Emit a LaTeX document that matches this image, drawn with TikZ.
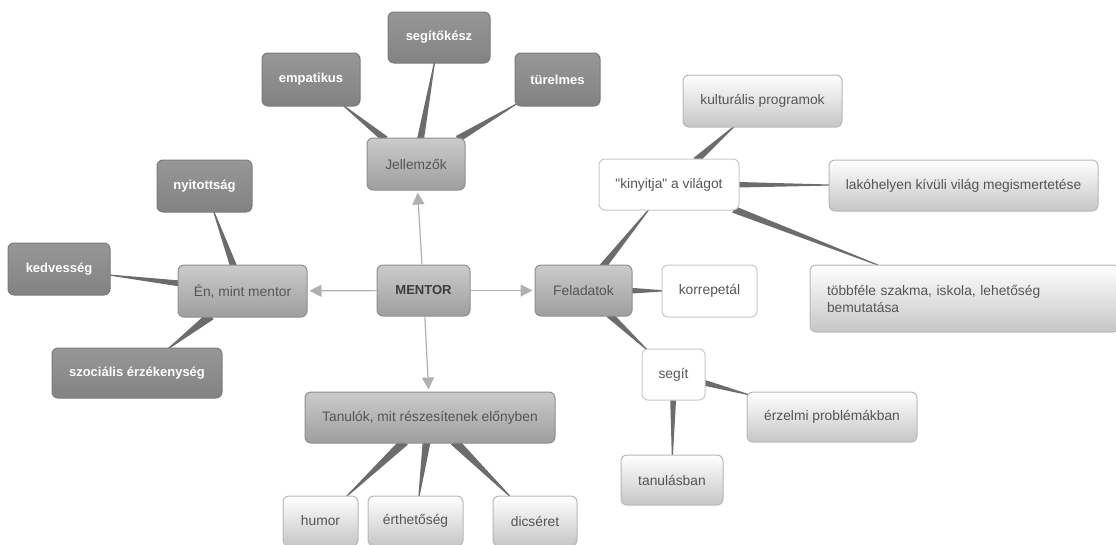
\documentclass[tikz,border=0pt]{standalone}
\usepackage{fontspec}
\setmainfont{Liberation Sans}
% same face without the TeX quote mapping, for straight double quotes
\newfontfamily\straightq{Liberation Sans}
\usetikzlibrary{arrows.meta,calc,backgrounds}

\definecolor{dkTop}{HTML}{979797}
\definecolor{dkBot}{HTML}{828282}
\definecolor{dkLine}{HTML}{7A7A7A}
\definecolor{mdTop}{HTML}{CBCBCB}
\definecolor{mdBot}{HTML}{9E9E9E}
\definecolor{mdLine}{HTML}{8E8E8E}
\definecolor{ltBot}{HTML}{C6C6C6}
\definecolor{ltLine}{HTML}{B8B8B8}
\definecolor{wtLine}{HTML}{C8C8C8}
\definecolor{txGray}{HTML}{555555}
\definecolor{txDark}{HTML}{3C3C3C}
\definecolor{wedgeGray}{HTML}{6C6C6C}
\definecolor{arrowGray}{HTML}{B0B0B0}

\tikzset{
  box/.style={rounded corners=6pt, line width=1pt, minimum height=51pt,
    inner sep=0pt, align=center, font=\fontsize{13.8}{17}\selectfont},
  darkbox/.style={box, top color=dkTop, bottom color=dkBot, draw=dkLine,
    text=white, font=\fontsize{13}{16}\selectfont\bfseries},
  midbox/.style={box, top color=mdTop, bottom color=mdBot, draw=mdLine, text=txGray},
  lightbox/.style={box, top color=white, bottom color=ltBot, draw=ltLine, text=txGray},
  whitebox/.style={box, fill=white, draw=wtLine, text=txGray},
  mentorarrow/.style={draw=arrowGray, line width=1.2pt,
    -{Triangle[length=12pt,width=12pt]}, shorten >=2pt},
  taperfill/.style={fill=wedgeGray}
}

% tapered connector: wide at the parent (#2), narrowing to a point at the child (#3)
\newcommand\taper[3][3.5pt]{%
  \path (#2) -- (#3) coordinate[pos=0] (tA0) coordinate[pos=1] (tB0);
  \coordinate (tA) at ($(tA0)!-3pt!(tB0)$);
  \coordinate (tB) at ($(tB0)!-3pt!(tA0)$);
  \fill[taperfill] ($(tA)!#1!90:(tB)$) -- ($(tB)!0.5pt!-90:(tA)$)
    -- ($(tB)!0.5pt!90:(tA)$) -- ($(tA)!#1!-90:(tB)$) -- cycle;}

\begin{document}
\begin{tikzpicture}[x=1pt,y=-1pt]
\useasboundingbox (0,0) rectangle (1116,544);

% centre
\node[midbox, minimum width=93pt, text=txDark, font=\fontsize{13}{16}\selectfont\bfseries] (mentor) at (423.5,290.5) {MENTOR};

% characteristics
\node[midbox, minimum width=98pt, minimum height=52pt] (jell) at (416,164) {Jellemzők};
\node[darkbox, minimum width=102pt] (segito) at (439,37.5) {segítőkész};
\node[darkbox, minimum width=98pt, minimum height=53pt] (empat) at (311,79.5) {empatikus};
\node[darkbox, minimum width=85pt, minimum height=53pt] (turel) at (557.5,79.5) {türelmes};

% the mentor
\node[midbox, minimum width=129pt, minimum height=52pt] (en) at (242.5,291) {Én, mint mentor};
\node[darkbox, minimum width=95pt, minimum height=52pt] (nyit) at (204.5,186) {nyitottság};
\node[darkbox, minimum width=102pt, minimum height=52pt] (kedv) at (59,269) {kedvesség};
\node[darkbox, minimum width=170pt, minimum height=50pt] (szoc) at (137,373) {szociális érzékenység};

% tasks
\node[midbox, minimum width=97pt] (fel) at (583.5,290.5) {Feladatok};
\node[whitebox, minimum width=95pt, minimum height=52pt] (korr) at (709.5,291) {korrepetál};
\node[whitebox, minimum width=140pt] (kiny) at (669,184.5) {{\straightq"}kinyitja{\straightq"} a világot};
\node[lightbox, minimum width=159pt, minimum height=52pt] (kult) at (762.5,101) {kulturális programok};
\node[lightbox, minimum width=269pt] (lako) at (963.5,185.5) {lakóhelyen kívüli világ megismertetése};
\node[lightbox, minimum width=309pt, minimum height=67pt, text width=275pt,
      align=left] (tobb) at (964.5,298.5) {többféle szakma, iskola, lehetőség\\bemutatása};
\node[whitebox, minimum width=63pt] (segit) at (673.5,374.5) {segít};
\node[lightbox, minimum width=170pt, minimum height=50pt] (erz) at (832,417) {érzelmi problémákban};
\node[lightbox, minimum width=102pt, minimum height=50pt] (tanul) at (672,480) {tanulásban};

% learners
\node[midbox, minimum width=250pt] (tan) at (430,417.5) {Tanulók, mit részesítenek előnyben};
\node[lightbox, minimum width=75pt, minimum height=50pt] (humor) at (320.5,521) {humor};
\node[lightbox, minimum width=95pt, minimum height=50pt] (erth) at (415.5,521) {érthetőség};
\node[lightbox, minimum width=84pt, minimum height=50pt] (dics) at (535,521) {dicséret};

% arrows out of the centre
\draw[mentorarrow] (mentor) -- (jell);
\draw[mentorarrow] (mentor) -- (en);
\draw[mentorarrow] (mentor) -- (fel);
\draw[mentorarrow] (mentor) -- (tan);

% tapered branches behind the boxes
\begin{pgfonlayer}{background}
  \taper{jell}{segito}
  \taper{jell}{empat}
  \taper{jell}{turel}
  \taper{en}{nyit}
  \taper[3pt]{en}{kedv}
  \taper[4.5pt]{en}{szoc}
  \taper{fel}{kiny}
  \taper[3pt]{fel}{korr}
  \taper{fel}{segit}
  \taper{kiny}{kult}
  \taper[2.8pt]{kiny}{lako}
  \taper{kiny}{tobb}
  \taper[3pt]{segit}{erz}
  \taper[3pt]{segit}{tanul}
  \taper[4.5pt]{tan}{humor}
  \taper[4pt]{tan}{erth}
  \taper[4.5pt]{tan}{dics}
\end{pgfonlayer}
\end{tikzpicture}
\end{document}
